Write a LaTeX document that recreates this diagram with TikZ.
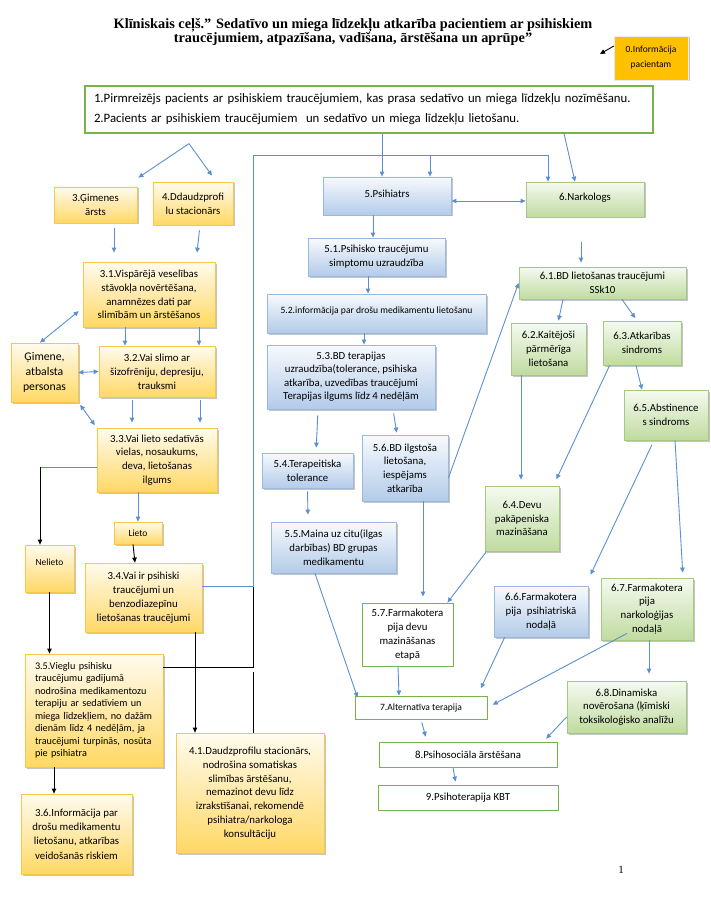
\documentclass[tikz,border=0pt]{standalone}
\usepackage{fontspec}
\setmainfont{Carlito}
\newfontfamily\titlefont{Liberation Serif}
\usetikzlibrary{arrows.meta,shadows}
\definecolor{arrowblue}{HTML}{5B8FD1}
\definecolor{yelltop}{HTML}{FFFBEE}
\definecolor{yellbot}{HTML}{FFD865}
\definecolor{yelledge}{HTML}{F5C84C}
\definecolor{bluetop}{HTML}{F7FAFD}
\definecolor{bluebot}{HTML}{B3CBE9}
\definecolor{blueedge}{HTML}{9BB8DD}
\definecolor{greentop}{HTML}{F5FAF0}
\definecolor{greenbot}{HTML}{C0DBA0}
\definecolor{greenedge}{HTML}{A5C882}
\definecolor{darkgreen}{HTML}{77B347}
\definecolor{infoorange}{HTML}{FFC000}

\begin{document}
\begin{tikzpicture}[x=1pt, y=-1pt,
  every node/.style = {font=\fontsize{10.8}{13.8}\selectfont, align=center, inner sep=2pt},
  yellowbox/.style = {draw=yelledge, line width=0.8pt, top color=yelltop, bottom color=yellbot,
    drop shadow={shadow xshift=1.5pt, shadow yshift=-1.5pt, fill=black!45, opacity=.5}},
  bluebox/.style = {draw=blueedge, line width=0.8pt, top color=bluetop, bottom color=bluebot,
    drop shadow={shadow xshift=1.5pt, shadow yshift=-1.5pt, fill=black!45, opacity=.5}},
  greenbox/.style = {draw=greenedge, line width=0.8pt, top color=greentop, bottom color=greenbot,
    drop shadow={shadow xshift=1.5pt, shadow yshift=-1.5pt, fill=black!45, opacity=.5}},
  plainbox/.style = {draw=darkgreen, line width=0.9pt, fill=white},
  infobox/.style = {fill=infoorange, draw=black!8, font=\fontsize{9.5}{15}\selectfont,
    drop shadow={shadow xshift=1.5pt, shadow yshift=-1.5pt, fill=black!45, opacity=.5}},
  startbox/.style = {draw=darkgreen, line width=1.3pt, fill=white, text width=550pt, inner xsep=9pt,
    minimum height=47pt, align=left, font=\fontsize{12.8}{20}\selectfont},
  blueline/.style = {draw=arrowblue, line width=0.9pt},
  bluearrow/.style = {blueline, -{Triangle[length=5pt, width=4.5pt]}},
  bluetwo/.style = {blueline, {Triangle[length=5pt, width=4.5pt]}-{Triangle[length=5pt, width=4.5pt]}},
  blackline/.style = {draw=black, line width=0.9pt},
  blackarrow/.style = {blackline, -{Triangle[length=5pt, width=4.5pt]}}]
\useasboundingbox (0,0) rectangle (710,901);

% title and info
\node[font={\titlefont\bfseries\fontsize{14.3}{14.5}\selectfont}] (title) at (353,32)
  {Klīniskais ceļš.” Sedatīvo un miega līdzekļu atkarība pacientiem ar psihiskiem\\
   traucējumiem, atpazīšana, vadīšana, ārstēšana un aprūpe”};
\node[infobox, minimum width=74pt, minimum height=44pt] (info0) at (651,58) {0.Informācija\\pacientam};
\node[startbox] (start) at (369,109.5)
  {1.Pirmreizējs pacients ar psihiskiem traucējumiem, kas prasa sedatīvo un miega līdzekļu nozīmēšanu.\\
   2.Pacients ar psihiskiem traucējumiem\ \ un sedatīvo un miega līdzekļu lietošanu.};

% left column
\node[yellowbox, minimum width=83pt, minimum height=36pt] (gp) at (95.5,205) {3.Ģimenes\\ārsts};
\node[yellowbox, minimum width=80pt, minimum height=43pt] (hosp) at (193,203.5) {4.Ddaudzprofi\\lu stacionārs};
\node[yellowbox, minimum width=132pt, minimum height=65pt] (n31) at (149,294.5)
  {3.1.Vispārējā veselības\\stāvokļa novērtēšana,\\anamnēzes dati par\\slimībām un ārstēšanos};
\node[yellowbox, minimum width=67pt, minimum height=59pt, font=\fontsize{11.7}{15}\selectfont] (fam) at (44.5,372.5)
  {Ģimene,\\atbalsta\\personas};
\node[yellowbox, minimum width=116pt, minimum height=51pt] (n32) at (157,371.5)
  {3.2.Vai slimo ar\\šizofrēniju, depresiju,\\trauksmi};
\node[yellowbox, minimum width=120pt, minimum height=64pt] (n33) at (157,460)
  {3.3.Vai lieto sedatīvās\\vielas, nosaukums,\\deva, lietošanas\\ilgums};
\node[yellowbox, minimum width=48pt, minimum height=22pt, font=\fontsize{9.5}{11}\selectfont] (lieto) at (138,533) {Lieto};
\node[yellowbox, minimum width=49pt, minimum height=47pt, font=\fontsize{9.4}{11}\selectfont] (nelieto) at (49.5,568.5)
  {\raisebox{12pt}{Nelieto}};
\node[yellowbox, minimum width=117pt, minimum height=69pt] (n34) at (143.5,597.5)
  {3.4.Vai ir psihiski\\traucējumi un\\benzodiazepīnu\\lietošanas traucējumi};
\node[yellowbox, text width=118pt, inner xsep=10pt, minimum height=113pt, align=left,
  font=\fontsize{10.2}{12.5}\selectfont] (n35) at (94,710.5)
  {3.5.Vieglu psihisku\\traucējumu gadījumā\\nodrošina medikamentozu\\terapiju ar sedatīviem un\\miega līdzekļiem, no dažām\\dienām līdz 4 nedēļām, ja\\traucējumi turpinās, nosūta\\pie psihiatra};
\node[yellowbox, minimum width=111pt, minimum height=80pt, font=\fontsize{10.8}{14.3}\selectfont] (n36) at (76.5,834)
  {3.6.Informācija par\\drošu medikamentu\\lietošanu, atkarības\\veidošanās riskiem};
\node[yellowbox, minimum width=148pt, minimum height=120pt] (n41) at (250,793)
  {4.1.Daudzprofilu stacionārs,\\nodrošina somatiskas\\slimības ārstēšanu,\\nemazinot devu līdz\\izrakstīšanai, rekomendē\\psihiatra/narkologa\\konsultāciju};

% psychiatrist column
\node[bluebox, minimum width=128pt, minimum height=38pt] (psy) at (387,196) {\raisebox{4pt}{5.Psihiatrs}};
\node[bluebox, minimum width=137pt, minimum height=38pt] (n51) at (376.5,257) {5.1.Psihisko traucējumu\\simptomu uzraudzība};
\node[bluebox, minimum width=219pt, minimum height=39pt, font=\fontsize{9.6}{11}\selectfont] (n52) at (376.5,313.5)
  {\raisebox{6pt}{5.2.informācija par drošu medikamentu lietošanu}};
\node[bluebox, minimum width=168pt, minimum height=64pt, font=\fontsize{10.8}{13.5}\selectfont] (n53) at (351,377)
  {5.3.BD terapijas\\uzraudzība(tolerance, psihiska\\atkarība, uzvedības traucējumi\\Terapijas ilgums līdz 4 nedēļām};
\node[bluebox, minimum width=91pt, minimum height=35pt] (n54) at (307.5,470.5) {5.4.Terapeitiska\\tolerance};
\node[bluebox, minimum width=125pt, minimum height=51pt] (n55) at (333.5,547.5)
  {5.5.Maina uz citu(ilgas\\darbības) BD grupas\\medikamentu};
\node[bluebox, minimum width=86pt, minimum height=66pt] (n56) at (405,468)
  {5.6.BD ilgstoša\\lietošana,\\iespējams\\atkarība};
\node[plainbox, minimum width=91pt, minimum height=63pt] (n57) at (407.5,634.5)
  {5.7.Farmakotera\\pija devu\\mazināšanas\\etapā};
\node[plainbox, minimum width=132pt, minimum height=23pt, font=\fontsize{9.6}{11}\selectfont] (alt) at (421,707.5) {7.Alternatīva terapija};
\node[plainbox, minimum width=178pt, minimum height=25pt] (n8) at (468,754.5) {8.Psihosociāla ārstēšana};
\node[plainbox, minimum width=180pt, minimum height=25pt] (n9) at (468,797.5) {9.Psihoterapija KBT};

% narcologist column
\node[greenbox, minimum width=118pt, minimum height=35pt] (narc) at (585,199.5) {\raisebox{5pt}{6.Narkologs}};
\node[greenbox, minimum width=167pt, minimum height=32pt, font=\fontsize{10.8}{14}\selectfont] (n61) at (602.5,283)
  {6.1.BD lietošanas traucējumi\\SSk10};
\node[greenbox, minimum width=75pt, minimum height=52pt] (n62) at (548.5,349) {6.2.Kaitējoši\\pārmērīga\\lietošana};
\node[greenbox, minimum width=78pt, minimum height=44pt] (n63) at (642,343) {6.3.Atkarības\\sindroms};
\node[greenbox, minimum width=74pt, minimum height=65pt] (n64) at (522,518.5) {6.4.Devu\\pakāpeniska\\mazināšana};
\node[greenbox, minimum width=84pt, minimum height=50pt] (n65) at (666,415) {6.5.Abstinence\\s sindroms};
\node[bluebox, minimum width=94pt, minimum height=51pt] (n66) at (541,611.5) {6.6.Farmakotera\\pija\enspace psihiatriskā\\nodaļā};
\node[greenbox, minimum width=92pt, minimum height=62pt] (n67) at (647,609) {6.7.Farmakotera\\pija\\narkoloģijas\\nodaļā};
\node[greenbox, minimum width=119pt, minimum height=52pt] (n68) at (626.5,707)
  {6.8.Dinamiska\\novērošana (ķīmiski\\toksikoloģisko analīžu};

\node[font=\titlefont\fontsize{11}{12}\selectfont] (pagenum) at (621,870) {1};

% connectors
\coordinate (split) at ([xshift=-180pt,yshift=-10pt]start.south);
\coordinate (infoend) at (600,54);
\coordinate (nelcorner) at (40,467);
\coordinate (jointop) at (253,550);
\coordinate (joingap) at (253,672);
\coordinate (ltop) at (253,155);
\coordinate (mtop) at (430,155);
\coordinate (rtop) at (548,155);

\draw[blackarrow] ([yshift=12pt]info0.west) -- (infoend);
\draw[bluearrow] (split) -- ([xshift=1pt,yshift=9pt]gp.north east);
\draw[bluearrow] (split) -- ([xshift=19pt,yshift=6pt]hosp.north);
\draw[bluearrow, shorten <=5pt, shorten >=9pt] ([xshift=18.5pt]gp.south) -- ([xshift=-35pt]n31.north);
\draw[bluearrow, shorten <=5pt, shorten >=9pt] ([xshift=7pt]hosp.south) -- ([xshift=47pt]n31.north);
\draw[bluetwo, shorten <=5pt] ([yshift=-13.5pt]n31.west) -- ([xshift=-4.5pt]fam.north);
\draw[bluearrow] ([xshift=-24pt]n31.south) -- ([xshift=-32pt]n32.north);
\draw[bluearrow] ([xshift=50pt]n31.south) -- ([xshift=42pt]n32.north);
\draw[bluetwo] (fam.east) -- (n32.west);
\draw[bluetwo, shorten <=3pt, shorten >=3pt] (fam.south east) -- (n33.north west);
\draw[bluearrow, shorten <=3pt, shorten >=5pt] ([xshift=-25pt]n32.south) -- ([xshift=-25pt]n33.north);
\draw[bluearrow, shorten <=3pt, shorten >=5pt] ([xshift=43pt]n32.south) -- ([xshift=43pt]n33.north);
\draw[blueline] ([yshift=-7pt]n33.west) -- (nelcorner);
\draw[blackarrow] (nelcorner) -- (nelcorner |- nelieto.north);
\draw[bluearrow] (lieto.north |- n33.south) -- (lieto.north);
\draw[blackarrow] ([xshift=-5pt]lieto.south) -- ([xshift=-8.5pt]n34.north);
\draw[blackarrow] (nelieto.south) -- (nelieto.south |- n35.north);
\draw[blackarrow] ([xshift=51.5pt]n34.south) -- ([xshift=-55pt]n41.north);
\draw[blackarrow] ([xshift=-40pt]n35.south) -- ([xshift=-22.5pt]n36.north);
\draw[blackline] ([yshift=43.5pt]n35.east) -| (jointop);
\draw[blackline] (n41.north -| joingap) -- (joingap);
\draw[blueline] ([yshift=11.5pt]n34.east) -| (ltop) -- (rtop);
\draw[bluearrow] (mtop) -- (mtop |- psy.north);
\draw[bluearrow] (rtop) -- (rtop |- narc.north);
\draw[bluearrow] ([xshift=13pt]start.south) -- ([xshift=-5pt]psy.north);
\draw[bluearrow] ([xshift=195pt]start.south) -- ([xshift=-10pt]narc.north);
\draw[bluetwo] ([yshift=-5pt]psy.east) -- ([yshift=-1.5pt]narc.west);
\draw[bluearrow] ([xshift=-14pt]psy.south) -- ([xshift=-3.5pt]n51.north);
\draw[bluearrow] ([xshift=-8.5pt]n51.south) -- ([xshift=-8.5pt]n52.north);
\draw[bluearrow] ([xshift=-12.5pt]n52.south) -- ([xshift=13pt]n53.north);
\draw[bluearrow, shorten <=6pt, shorten >=5pt] ([xshift=-33pt]n53.south) -- ([xshift=8.5pt]n54.north);
\draw[bluearrow, shorten <=4pt, shorten >=2pt] ([xshift=42pt]n53.south) -- ([xshift=-8pt]n56.north);
\draw[bluearrow, shorten <=3pt, shorten >=7pt] (n54.south) -- ([xshift=-25.5pt]n55.north);
\draw[bluearrow] ([xshift=-18.5pt]n55.south) -- ([xshift=3pt,yshift=-2pt]alt.north west);
\draw[bluearrow] ([yshift=-10pt]n56.east) -- (n61.west);
\draw[bluearrow, shorten >=6pt] ([xshift=18pt]n56.south) -- ([xshift=15.5pt]n57.north);
\draw[bluearrow] ([xshift=-9.5pt]n57.south) -- ([xshift=-22pt]alt.north);
\draw[bluearrow] ([xshift=2pt]n64.south west) -- ([xshift=-6pt]n57.north east);
\draw[bluearrow, shorten >=8pt] ([xshift=11pt]n66.south west) -- ([xshift=-10pt]alt.north east);
\draw[bluearrow, shorten >=6pt] ([xshift=-20pt,yshift=7pt]n67.south) -- (alt.east);
\draw[bluearrow, shorten >=7pt] ([xshift=2pt]n67.south) -- ([xshift=22.5pt]n68.north);
\draw[bluearrow, shorten <=3pt, shorten >=5pt] (alt.south) -- ([xshift=-41pt]n8.north);
\draw[bluearrow, shorten >=4pt] ([yshift=-10pt]n68.west) -- ([xshift=-14pt]n8.north east);
\draw[bluearrow, shorten >=3pt] ([xshift=-15pt]n8.south) -- ([xshift=-12pt]n9.north);
\draw[bluearrow, shorten <=25pt, shorten >=4pt] ([xshift=-4pt]narc.south) -- ([xshift=-21.5pt]n61.north);
\draw[bluearrow, shorten >=2pt] ([xshift=-39.5pt]n61.south) -- ([xshift=9.5pt]n62.north);
\draw[bluearrow, shorten >=3pt] ([xshift=19.5pt]n61.south) -- ([xshift=-5pt]n63.north);
\draw[bluearrow, shorten >=6pt] ([xshift=-27.5pt]n62.south) -- ([xshift=-1pt]n64.north);
\draw[bluearrow, shorten >=7pt] ([xshift=7pt]n63.south west) -- ([xshift=-6pt]n64.north east);
\draw[bluearrow] ([xshift=-6pt]n63.south) -- ([xshift=-24pt]n65.north);
\draw[bluearrow, shorten <=5pt, shorten >=12pt] ([xshift=-12pt]n65.south) -- ([xshift=-3pt]n66.north east);
\draw[bluearrow, shorten >=5pt] ([xshift=9pt]n65.south) -- ([xshift=36pt]n67.north);
\end{tikzpicture}
\end{document}
